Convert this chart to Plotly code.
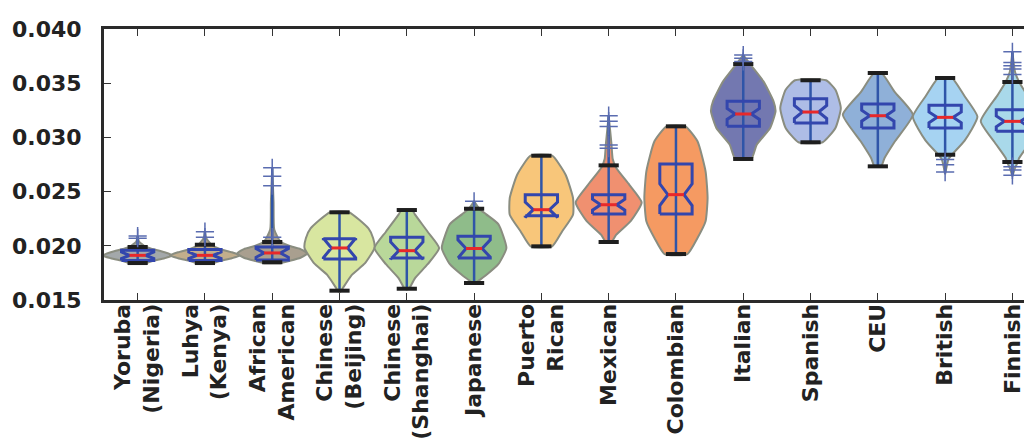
import plotly.graph_objects as go

# ---------------- data ----------------
categories = ["Yoruba<br>(Nigeria)", "Luhya<br>(Kenya)", "African<br>American",
              "Chinese<br>(Beijing)", "Chinese<br>(Shanghai)", "Japanese",
              "Puerto<br>Rican", "Mexican", "Colombian", "Italian", "Spanish",
              "CEU", "British", "Finnish"]

whisker_low = [0.01841, 0.01841, 0.01848, 0.01586, 0.01604, 0.01657, 0.01995,
               0.02035, 0.01924, 0.02801, 0.02955, 0.02733, 0.02840, 0.02773]
q1_vals     = [0.01865, 0.01865, 0.01870, 0.01878, 0.01887, 0.01887, 0.02278,
               0.02293, 0.02293, 0.03102, 0.03133, 0.03087, 0.03087, 0.03056]
medians     = [0.01912, 0.01912, 0.01934, 0.01980, 0.01955, 0.01975, 0.02333,
               0.02379, 0.02472, 0.03216, 0.03234, 0.03200, 0.03185, 0.03148]
q3_vals     = [0.01960, 0.01965, 0.01990, 0.02066, 0.02078, 0.02088, 0.02472,
               0.02472, 0.02755, 0.03333, 0.03357, 0.03308, 0.03296, 0.03256]
whisker_high = [0.01989, 0.02010, 0.02035, 0.02309, 0.02330, 0.02342, 0.02831,
                0.02742, 0.03102, 0.03677, 0.03527, 0.03594, 0.03548, 0.03511]
notch_spans = [0.0003, 0.0003, 0.0004, 0.0009, 0.0008, 0.0008, 0.0007,
               0.0005, 0.0010, 0.0005, 0.0006, 0.0005, 0.0005, 0.0005]

outliers = [
    [0.0207, 0.0209],
    [0.0208, 0.0213],
    [0.0208, 0.02554, 0.02641, 0.0272],
    [],
    [],
    [0.0241],
    [],
    [0.0290, 0.0293, 0.0310, 0.0315, 0.0320],
    [],
    [0.0370, 0.0373, 0.0376],
    [],
    [],
    [0.02795, 0.02748, 0.0268],
    [0.0358, 0.0363, 0.0366, 0.0369, 0.0379, 0.0273, 0.0270, 0.0265],
]

# violin density profiles: values and half-widths (in category units)
violin_y = [
    [0.01841, 0.0186, 0.01885, 0.0191, 0.0194, 0.0197, 0.01989, 0.0204, 0.0209],
    [0.01841, 0.0186, 0.01885, 0.0191, 0.0194, 0.0197, 0.0201, 0.0207, 0.0213],
    [0.0184, 0.0186, 0.0189, 0.0193, 0.0197, 0.0200, 0.0204, 0.0215, 0.0240, 0.0272],
    [0.0158, 0.0161, 0.0173, 0.0184, 0.0198, 0.0207, 0.0216, 0.0231],
    [0.0160, 0.0161, 0.0170, 0.0183, 0.0198, 0.0213, 0.0229, 0.0233],
    [0.01657, 0.0167, 0.0173, 0.0183, 0.0198, 0.0220, 0.0229, 0.0234, 0.0241],
    [0.01995, 0.02134, 0.02287, 0.02441, 0.02656, 0.02831],
    [0.02035, 0.0204, 0.0210, 0.0223, 0.0240, 0.0256, 0.0272, 0.0280, 0.0295, 0.0320],
    [0.01924, 0.02072, 0.02226, 0.02441, 0.02687, 0.02964, 0.03102],
    [0.02801, 0.02933, 0.03087, 0.03241, 0.03333, 0.03517, 0.03677, 0.0372, 0.0376],
    [0.02955, 0.03087, 0.03271, 0.03440, 0.03527],
    [0.02733, 0.0281, 0.0296, 0.0321, 0.0342, 0.0359],
    [0.0266, 0.0280, 0.0284, 0.0297, 0.0319, 0.0338, 0.0355],
    [0.0264, 0.0272, 0.02773, 0.0281, 0.0296, 0.0315, 0.0339, 0.03511, 0.0360, 0.0379],
]
violin_hw = [
    [0.12, 0.22, 0.40, 0.52, 0.40, 0.22, 0.12, 0.02, 0.0],
    [0.12, 0.22, 0.40, 0.52, 0.40, 0.22, 0.10, 0.02, 0.0],
    [0.12, 0.25, 0.42, 0.52, 0.42, 0.25, 0.12, 0.03, 0.02, 0.0],
    [0.02, 0.05, 0.18, 0.38, 0.52, 0.50, 0.43, 0.14],
    [0.02, 0.04, 0.12, 0.31, 0.48, 0.31, 0.12, 0.08],
    [0.03, 0.05, 0.18, 0.36, 0.48, 0.36, 0.18, 0.08, 0.0],
    [0.16, 0.31, 0.47, 0.47, 0.36, 0.16],
    [0.03, 0.05, 0.11, 0.33, 0.49, 0.31, 0.11, 0.06, 0.04, 0.0],
    [0.17, 0.32, 0.44, 0.47, 0.44, 0.32, 0.14],
    [0.12, 0.20, 0.40, 0.48, 0.45, 0.30, 0.10, 0.05, 0.0],
    [0.18, 0.37, 0.45, 0.37, 0.23],
    [0.05, 0.10, 0.25, 0.52, 0.25, 0.06],
    [0.0, 0.05, 0.10, 0.29, 0.48, 0.29, 0.10],
    [0.0, 0.04, 0.08, 0.10, 0.27, 0.47, 0.22, 0.10, 0.04, 0.0],
]

violin_colors = ["#a3a8aa", "#c2ae8c", "#a99f8f", "#d8e6a0", "#b9d89a", "#8fbc8a",
                 "#f8c67a", "#f09070", "#f59a62", "#7378b0", "#aebde6", "#8fb0d8",
                 "#a6d3f2", "#a9d9ea"]

y_ticks = [0.015, 0.020, 0.025, 0.030, 0.035, 0.040]
y_tick_labels = ["0.015", "0.020", "0.025", "0.030", "0.035", "0.040"]

# ---------------- figure ----------------
fig = go.Figure()
positions = list(range(len(categories)))
BOX_HW = 0.24      # half width of boxes (category units)
NOTCH_HW = 0.12    # half width at the notch waist
CAP_HW = 0.15

# violins
for i in positions:
    ys = violin_y[i]
    hw = violin_hw[i]
    xs = [i + w for w in hw] + [i - w for w in reversed(hw)]
    yy = ys + list(reversed(ys))
    fig.add_trace(go.Scatter(
        x=xs + [xs[0]], y=yy + [yy[0]], mode="lines", fill="toself",
        fillcolor=violin_colors[i],
        line=dict(color="#8a8d80", width=2, shape="spline", smoothing=0.5),
        hoverinfo="skip", showlegend=False))

# central vertical bars (full data range)
for i in positions:
    lo = min([whisker_low[i]] + outliers[i])
    hi = max([whisker_high[i]] + outliers[i])
    fig.add_trace(go.Scatter(
        x=[i, i], y=[lo, hi], mode="lines",
        line=dict(color="#2f55a8", width=2.5), hoverinfo="skip", showlegend=False))

# notched boxes (matplotlib style)
for i in positions:
    q1, md, q3, nh = q1_vals[i], medians[i], q3_vals[i], notch_spans[i]
    bx = [i - BOX_HW, i + BOX_HW, i + BOX_HW, i + NOTCH_HW, i + BOX_HW, i + BOX_HW,
          i - BOX_HW, i - BOX_HW, i - NOTCH_HW, i - BOX_HW, i - BOX_HW]
    by = [q1, q1, md - nh, md, md + nh, q3, q3, md + nh, md, md - nh, q1]
    fig.add_trace(go.Scatter(
        x=bx, y=by, mode="lines", line=dict(color="#3346ad", width=3),
        hoverinfo="skip", showlegend=False))

# red medians
for i in positions:
    fig.add_trace(go.Scatter(
        x=[i - NOTCH_HW, i + NOTCH_HW], y=[medians[i], medians[i]], mode="lines",
        line=dict(color="#e8282a", width=3), hoverinfo="skip", showlegend=False))

# black caps
for i in positions:
    for v in (whisker_low[i], whisker_high[i]):
        fig.add_trace(go.Scatter(
            x=[i - CAP_HW, i + CAP_HW], y=[v, v], mode="lines",
            line=dict(color="#1e1e1e", width=4), hoverinfo="skip", showlegend=False))

# fliers
for i in positions:
    if outliers[i]:
        fig.add_trace(go.Scatter(
            x=[i] * len(outliers[i]), y=outliers[i], mode="markers",
            marker=dict(symbol="cross-thin-open", size=13, color="#5a6cb0",
                        line=dict(color="#5a6cb0", width=1.5)),
            hoverinfo="skip", showlegend=False))

# dummy for right-side mirrored ticks
fig.add_trace(go.Scatter(x=[0], y=[0.02], yaxis="y2", mode="markers",
                         marker=dict(opacity=0), hoverinfo="skip", showlegend=False))

font = dict(family="DejaVu Sans", size=22, color="#222222", weight="bold")

fig.update_layout(
    width=1032, height=441,
    margin=dict(l=96, r=0, t=21, b=149),
    paper_bgcolor="white", plot_bgcolor="white",
    hovermode=False,
    xaxis=dict(range=[-0.5, 13.41], tickvals=positions, ticktext=categories,
               tickangle=-90, ticks="inside", ticklen=7, tickwidth=1.2,
               tickcolor="#333333", showline=True, linewidth=3, linecolor="#2a2a2a",
               mirror="ticks", showgrid=False, zeroline=False, tickfont=font,
               ticklabelstandoff=-8),
    yaxis=dict(range=[0.015, 0.040], tickvals=y_ticks, ticktext=y_tick_labels,
               ticks="inside", ticklen=7, tickwidth=1.2, tickcolor="#333333",
               showline=True, linewidth=3, linecolor="#2a2a2a", mirror=False,
               showgrid=False, zeroline=False, tickfont=font, ticklabelstandoff=15),
    yaxis2=dict(range=[0.015, 0.040], overlaying="y", side="right", anchor="x",
                tickvals=y_ticks, ticks="inside", ticklen=7, tickwidth=1.2,
                tickcolor="#333333", showticklabels=False, showline=False,
                showgrid=False, zeroline=False),
)

fig.write_html("out.html")
